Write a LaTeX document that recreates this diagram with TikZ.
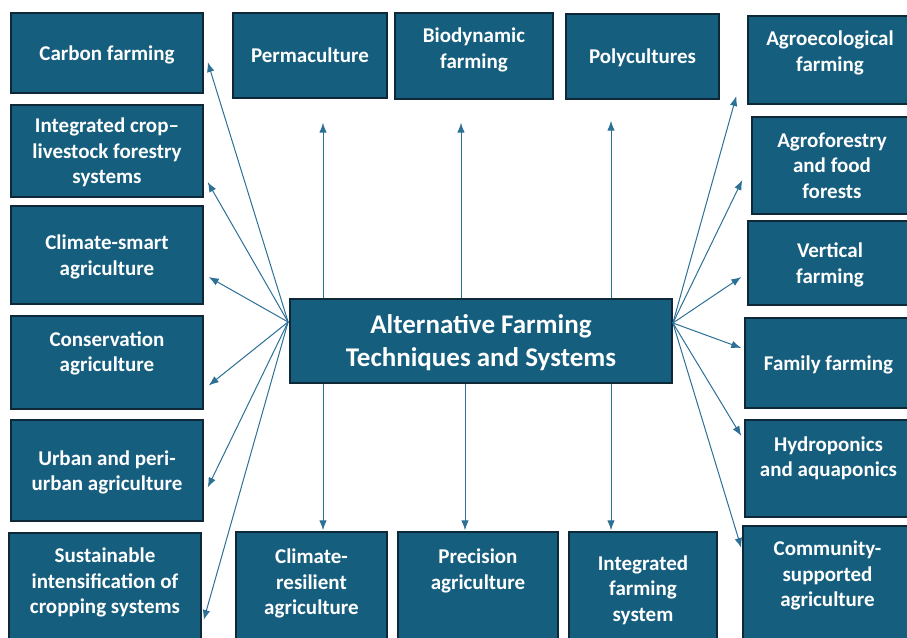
\documentclass[tikz,border=0pt]{standalone}
\usepackage{fontspec}
\setmainfont{Carlito}
\usepackage{tikz}
\usetikzlibrary{calc,arrows.meta}

\definecolor{boxfill}{RGB}{22,94,126}
\definecolor{boxline}{RGB}{14,40,55}
\definecolor{linkc}{RGB}{44,112,150}

\tikzset{
  box/.style={rectangle, draw=boxline, fill=boxfill, line width=1.4pt, text=white,
    inner sep=0pt, align=center, text depth=0pt, font=\fontsize{21}{25.5}\selectfont\bfseries},
  mainbox/.style={box, line width=1.8pt, text depth=0pt, font=\fontsize{27}{33}\selectfont\bfseries},
  lift/.style={text depth=#1},
  link/.style={draw=linkc, line width=1pt, -{Latex[length=10pt,width=7.5pt]}}
}

\begin{document}
\begin{tikzpicture}[x=1pt,y=-1pt]
        \useasboundingbox (0,0) rectangle (907,637);
        \clip (0,0) rectangle (907,637);
        % centre
        \node[mainbox, minimum width=382pt, minimum height=84pt] (main) at (481,341)
            {Alternative Farming\\Techniques and Systems};
        \coordinate (lhub) at ($(main.west)+(-1,-19)$);
        \coordinate (rhub) at ($(main.east)+(0,-18)$);
        % left column
        \node[box, minimum width=192pt, minimum height=80pt] (carbon) at (107,53) {Carbon farming};
        \node[box, minimum width=192pt, minimum height=92pt] (icl) at (107,151) {Integrated crop–\\livestock forestry\\systems};
        \node[box, minimum width=192pt, minimum height=98pt] (csa) at (107,255) {Climate-smart\\agriculture};
        \node[box, lift=22pt, minimum width=192pt, minimum height=93pt] (cons) at (107,362.5) {Conservation\\agriculture};
        \node[box, minimum width=192pt, minimum height=101pt] (urban) at (107,470.5) {Urban and peri-\\urban agriculture};
        \node[box, lift=16pt, minimum width=192pt, minimum height=112pt] (sust) at (105,589) {Sustainable\\intensification of\\cropping systems};
        % top row
        \node[box, minimum width=154pt, minimum height=85pt] (perma) at (310,55.5) {Permaculture};
        \node[box, lift=16pt, minimum width=158pt, minimum height=86pt] (biody) at (474,56) {Biodynamic\\farming};
        \node[box, minimum width=153pt, minimum height=85pt] (poly) at (642.5,56.5) {Polycultures};
        % right column
        \node[box, lift=18pt, minimum width=164pt, minimum height=88pt] (agroeco) at (830,60) {Agroecological\\farming};
        \node[box, minimum width=160pt, minimum height=97pt] (agrofor) at (832,165.5) {Agroforestry\\and food\\forests};
        \node[box, minimum width=164pt, minimum height=84pt] (vert) at (830,263) {Vertical\\farming};
        \node[box, minimum width=167pt, minimum height=90pt] (family) at (828.5,363) {Family farming};
        \node[box, lift=24pt, minimum width=167pt, minimum height=97pt] (hydro) at (828.5,468.5) {Hydroponics\\and aquaponics};
        \node[box, lift=23pt, minimum width=169pt, minimum height=119pt] (comm) at (827.5,585.5) {Community-\\supported\\agriculture};
        % bottom row
        \node[box, lift=13pt, minimum width=151pt, minimum height=113pt] (clres) at (311.5,588.5) {Climate-\\resilient\\agriculture};
        \node[box, lift=39pt, minimum width=160pt, minimum height=113pt] (prec) at (478,588.5) {Precision\\agriculture};
        \node[box, minimum width=148pt, minimum height=113pt] (ifs) at (643,588.5) {Integrated\\farming\\system};
        % arrows
        \foreach \n/\dx/\dy in {carbon/4/9, icl/4/31, csa/5/22, cons/5/23, urban/4/17, sust/2/31}
        \draw[link] (lhub) -- ($(\n.east)+(\dx,\dy)$);
        \foreach \n/\dx/\dy in {agroeco/-11/36, agrofor/-9/14.5, vert/-6/14, family/-3/-15, hydro/-3/-32.5, comm/-1/-37.5}
        \draw[link] (rhub) -- ($(\n.west)+(\dx,\dy)$);
        \foreach \n/\sx/\dx/\dy in {perma/-158/13/24, biody/-20/-13/23, poly/130/-31.5/21}
        \draw[link] ($(main.north)+(\sx,0)$) -- ($(\n.south)+(\dx,\dy)$);
        \foreach \n/\sx/\dx in {clres/-158/11.5, prec/-16/-13, ifs/130/-32}
        \draw[link] ($(main.south)+(\sx,0)$) -- ($(\n.north)+(\dx,-1)$);
    \end{tikzpicture}
\end{document}
